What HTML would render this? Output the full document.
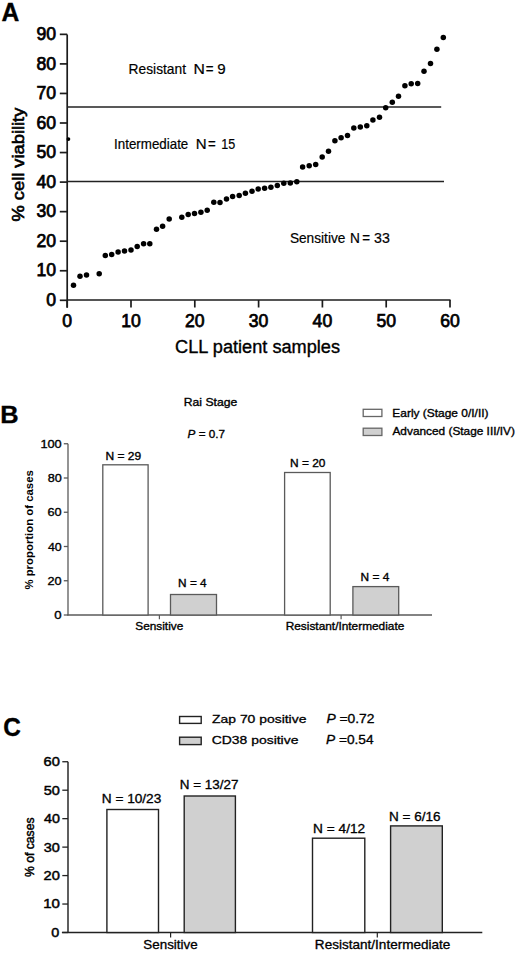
<!DOCTYPE html>
<html><head><meta charset="utf-8"><title>Figure</title>
<style>
html,body{margin:0;padding:0;background:#fff;}
body{width:520px;height:963px;overflow:hidden;}
svg{display:block;font-family:"Liberation Sans", sans-serif;}
</style></head>
<body>
<svg width="520" height="963" viewBox="0 0 520 963">
<rect width="520" height="963" fill="#fff"/>
<text x="1.6" y="20.9" font-size="25" text-anchor="start" font-weight="bold" textLength="17.8" lengthAdjust="spacingAndGlyphs" stroke="#000" stroke-width="0.35">A</text>
<line x1="67.2" y1="34.4" x2="67.2" y2="307.7" stroke="#1c1c1c" stroke-width="1.7"/>
<line x1="59.8" y1="300.3" x2="67.2" y2="300.3" stroke="#1c1c1c" stroke-width="1.7"/>
<text x="56.1" y="306.0" font-size="17.6" text-anchor="end" stroke="#000" stroke-width="0.75">0</text>
<line x1="59.8" y1="270.75" x2="67.2" y2="270.75" stroke="#1c1c1c" stroke-width="1.7"/>
<text x="56.1" y="276.45" font-size="17.6" text-anchor="end" stroke="#000" stroke-width="0.75">10</text>
<line x1="59.8" y1="241.2" x2="67.2" y2="241.2" stroke="#1c1c1c" stroke-width="1.7"/>
<text x="56.1" y="246.9" font-size="17.6" text-anchor="end" stroke="#000" stroke-width="0.75">20</text>
<line x1="59.8" y1="211.65" x2="67.2" y2="211.65" stroke="#1c1c1c" stroke-width="1.7"/>
<text x="56.1" y="217.35" font-size="17.6" text-anchor="end" stroke="#000" stroke-width="0.75">30</text>
<line x1="59.8" y1="182.1" x2="67.2" y2="182.1" stroke="#1c1c1c" stroke-width="1.7"/>
<text x="56.1" y="187.8" font-size="17.6" text-anchor="end" stroke="#000" stroke-width="0.75">40</text>
<line x1="59.8" y1="152.55" x2="67.2" y2="152.55" stroke="#1c1c1c" stroke-width="1.7"/>
<text x="56.1" y="158.25" font-size="17.6" text-anchor="end" stroke="#000" stroke-width="0.75">50</text>
<line x1="59.8" y1="123.0" x2="67.2" y2="123.0" stroke="#1c1c1c" stroke-width="1.7"/>
<text x="56.1" y="128.7" font-size="17.6" text-anchor="end" stroke="#000" stroke-width="0.75">60</text>
<line x1="59.8" y1="93.45" x2="67.2" y2="93.45" stroke="#1c1c1c" stroke-width="1.7"/>
<text x="56.1" y="99.15" font-size="17.6" text-anchor="end" stroke="#000" stroke-width="0.75">70</text>
<line x1="59.8" y1="63.9" x2="67.2" y2="63.9" stroke="#1c1c1c" stroke-width="1.7"/>
<text x="56.1" y="69.6" font-size="17.6" text-anchor="end" stroke="#000" stroke-width="0.75">80</text>
<line x1="59.8" y1="34.35" x2="67.2" y2="34.35" stroke="#1c1c1c" stroke-width="1.7"/>
<text x="56.1" y="40.05" font-size="17.6" text-anchor="end" stroke="#000" stroke-width="0.75">90</text>
<line x1="67.2" y1="300.0" x2="450.5" y2="300.0" stroke="#1c1c1c" stroke-width="1.7"/>
<line x1="67.2" y1="300" x2="67.2" y2="307.5" stroke="#1c1c1c" stroke-width="1.7"/>
<text x="67.2" y="326.5" font-size="17.6" text-anchor="middle" stroke="#000" stroke-width="0.75">0</text>
<line x1="131.0" y1="300" x2="131.0" y2="307.5" stroke="#1c1c1c" stroke-width="1.7"/>
<text x="131.0" y="326.5" font-size="17.6" text-anchor="middle" stroke="#000" stroke-width="0.75">10</text>
<line x1="194.8" y1="300" x2="194.8" y2="307.5" stroke="#1c1c1c" stroke-width="1.7"/>
<text x="194.8" y="326.5" font-size="17.6" text-anchor="middle" stroke="#000" stroke-width="0.75">20</text>
<line x1="258.6" y1="300" x2="258.6" y2="307.5" stroke="#1c1c1c" stroke-width="1.7"/>
<text x="258.6" y="326.5" font-size="17.6" text-anchor="middle" stroke="#000" stroke-width="0.75">30</text>
<line x1="322.4" y1="300" x2="322.4" y2="307.5" stroke="#1c1c1c" stroke-width="1.7"/>
<text x="322.4" y="326.5" font-size="17.6" text-anchor="middle" stroke="#000" stroke-width="0.75">40</text>
<line x1="386.2" y1="300" x2="386.2" y2="307.5" stroke="#1c1c1c" stroke-width="1.7"/>
<text x="386.2" y="326.5" font-size="17.6" text-anchor="middle" stroke="#000" stroke-width="0.75">50</text>
<line x1="450.0" y1="300" x2="450.0" y2="307.5" stroke="#1c1c1c" stroke-width="1.7"/>
<text x="450.0" y="326.5" font-size="17.6" text-anchor="middle" stroke="#000" stroke-width="0.75">60</text>
<text x="175.08" y="353.0" font-size="17.6" text-anchor="start" textLength="164.97" lengthAdjust="spacingAndGlyphs" stroke="#000" stroke-width="0.35">CLL patient samples</text>
<text transform="translate(24.4,164.6) rotate(-90)" font-size="15.8" text-anchor="middle" textLength="113.8" lengthAdjust="spacingAndGlyphs" stroke="#000" stroke-width="0.6">% cell viability</text>
<line x1="67.2" y1="107.0" x2="441.2" y2="107.0" stroke="#222" stroke-width="1.7"/>
<line x1="67.2" y1="181.5" x2="444.0" y2="181.5" stroke="#222" stroke-width="1.7"/>
<text x="128.62" y="73.6" font-size="14.5" text-anchor="start" textLength="57.38" lengthAdjust="spacingAndGlyphs" stroke="#000" stroke-width="0.2">Resistant</text>
<text x="193.51" y="73.6" font-size="14.5" text-anchor="start" textLength="11.38" lengthAdjust="spacingAndGlyphs" stroke="#000" stroke-width="0.2">N</text>
<text x="205.85" y="73.6" font-size="14.5" text-anchor="start" textLength="7.81" lengthAdjust="spacingAndGlyphs" stroke="#000" stroke-width="0.2">=</text>
<text x="217.29" y="73.6" font-size="14.5" text-anchor="start" textLength="8.43" lengthAdjust="spacingAndGlyphs" stroke="#000" stroke-width="0.2">9</text>
<text x="114.07" y="149.4" font-size="14.5" text-anchor="start" textLength="74.23" lengthAdjust="spacingAndGlyphs" stroke="#000" stroke-width="0.2">Intermediate</text>
<text x="195.77" y="149.4" font-size="14.5" text-anchor="start" textLength="10.86" lengthAdjust="spacingAndGlyphs" stroke="#000" stroke-width="0.2">N</text>
<text x="208.1" y="149.4" font-size="14.5" text-anchor="start" textLength="7.75" lengthAdjust="spacingAndGlyphs" stroke="#000" stroke-width="0.2">=</text>
<text x="221.24" y="149.4" font-size="14.5" text-anchor="start" textLength="13.99" lengthAdjust="spacingAndGlyphs" stroke="#000" stroke-width="0.2">15</text>
<text x="289.88" y="242.8" font-size="14.5" text-anchor="start" textLength="55.53" lengthAdjust="spacingAndGlyphs" stroke="#000" stroke-width="0.2">Sensitive</text>
<text x="349.98" y="242.8" font-size="14.5" text-anchor="start" textLength="9.89" lengthAdjust="spacingAndGlyphs" stroke="#000" stroke-width="0.2">N</text>
<text x="362.35" y="242.8" font-size="14.5" text-anchor="start" textLength="7.81" lengthAdjust="spacingAndGlyphs" stroke="#000" stroke-width="0.2">=</text>
<text x="374.06" y="242.8" font-size="14.5" text-anchor="start" textLength="15.76" lengthAdjust="spacingAndGlyphs" stroke="#000" stroke-width="0.2">33</text>
<circle cx="73.5" cy="285.2" r="2.75" fill="#000"/>
<circle cx="80" cy="276.3" r="2.75" fill="#000"/>
<circle cx="86.5" cy="274.9" r="2.75" fill="#000"/>
<circle cx="99.2" cy="273.7" r="2.75" fill="#000"/>
<circle cx="105.3" cy="255.6" r="2.75" fill="#000"/>
<circle cx="111.7" cy="254.6" r="2.75" fill="#000"/>
<circle cx="118.1" cy="252" r="2.75" fill="#000"/>
<circle cx="124.5" cy="251" r="2.75" fill="#000"/>
<circle cx="131" cy="249.9" r="2.75" fill="#000"/>
<circle cx="137.2" cy="246.4" r="2.75" fill="#000"/>
<circle cx="143.6" cy="243.8" r="2.75" fill="#000"/>
<circle cx="149.8" cy="243.8" r="2.75" fill="#000"/>
<circle cx="156.5" cy="229.2" r="2.75" fill="#000"/>
<circle cx="162.6" cy="226.2" r="2.75" fill="#000"/>
<circle cx="169.2" cy="218.9" r="2.75" fill="#000"/>
<circle cx="181.8" cy="217.2" r="2.75" fill="#000"/>
<circle cx="188.2" cy="214.5" r="2.75" fill="#000"/>
<circle cx="194.5" cy="213.4" r="2.75" fill="#000"/>
<circle cx="200.9" cy="212.3" r="2.75" fill="#000"/>
<circle cx="207.2" cy="210.3" r="2.75" fill="#000"/>
<circle cx="213.8" cy="202.3" r="2.75" fill="#000"/>
<circle cx="220" cy="202.6" r="2.75" fill="#000"/>
<circle cx="226.5" cy="199.1" r="2.75" fill="#000"/>
<circle cx="232.6" cy="196.6" r="2.75" fill="#000"/>
<circle cx="239.2" cy="195.4" r="2.75" fill="#000"/>
<circle cx="245.4" cy="193.2" r="2.75" fill="#000"/>
<circle cx="252" cy="191.2" r="2.75" fill="#000"/>
<circle cx="258.2" cy="188.9" r="2.75" fill="#000"/>
<circle cx="264.6" cy="188.3" r="2.75" fill="#000"/>
<circle cx="270.9" cy="187.2" r="2.75" fill="#000"/>
<circle cx="277.3" cy="185.5" r="2.75" fill="#000"/>
<circle cx="283.8" cy="183.2" r="2.75" fill="#000"/>
<circle cx="290.3" cy="182.9" r="2.75" fill="#000"/>
<circle cx="296.8" cy="181.8" r="2.75" fill="#000"/>
<circle cx="302.6" cy="167.1" r="2.75" fill="#000"/>
<circle cx="309.2" cy="165.7" r="2.75" fill="#000"/>
<circle cx="315.7" cy="164.5" r="2.75" fill="#000"/>
<circle cx="322.2" cy="156.9" r="2.75" fill="#000"/>
<circle cx="328.5" cy="151.2" r="2.75" fill="#000"/>
<circle cx="334.9" cy="140.8" r="2.75" fill="#000"/>
<circle cx="341.1" cy="137.8" r="2.75" fill="#000"/>
<circle cx="347.5" cy="135.5" r="2.75" fill="#000"/>
<circle cx="353.8" cy="128" r="2.75" fill="#000"/>
<circle cx="360.3" cy="127.1" r="2.75" fill="#000"/>
<circle cx="366.8" cy="125.8" r="2.75" fill="#000"/>
<circle cx="372.9" cy="120" r="2.75" fill="#000"/>
<circle cx="379.5" cy="117.2" r="2.75" fill="#000"/>
<circle cx="385.7" cy="107.8" r="2.75" fill="#000"/>
<circle cx="392.3" cy="102.2" r="2.75" fill="#000"/>
<circle cx="398.5" cy="96.2" r="2.75" fill="#000"/>
<circle cx="404.9" cy="85.8" r="2.75" fill="#000"/>
<circle cx="411.2" cy="83.7" r="2.75" fill="#000"/>
<circle cx="417.7" cy="83.4" r="2.75" fill="#000"/>
<circle cx="424" cy="71.3" r="2.75" fill="#000"/>
<circle cx="430.5" cy="63.5" r="2.75" fill="#000"/>
<circle cx="436.9" cy="49.2" r="2.75" fill="#000"/>
<circle cx="443.3" cy="37.4" r="2.75" fill="#000"/>
<circle cx="68.4" cy="139.1" r="1.9" fill="#000"/>
<text x="0.3" y="423" font-size="23.5" text-anchor="start" font-weight="bold" textLength="18.35" lengthAdjust="spacingAndGlyphs" stroke="#000" stroke-width="0.35">B</text>
<line x1="68.0" y1="443.75" x2="68.0" y2="615.6" stroke="#5a5a5a" stroke-width="1.3"/>
<line x1="63.8" y1="615.0" x2="68" y2="615.0" stroke="#5a5a5a" stroke-width="1.3"/>
<text x="54.39" y="619.1" font-size="11.6" text-anchor="start" textLength="7.33" lengthAdjust="spacingAndGlyphs" stroke="#000" stroke-width="0.35">0</text>
<line x1="63.8" y1="580.75" x2="68" y2="580.75" stroke="#5a5a5a" stroke-width="1.3"/>
<text x="47.56" y="584.85" font-size="11.6" text-anchor="start" textLength="14.14" lengthAdjust="spacingAndGlyphs" stroke="#000" stroke-width="0.35">20</text>
<line x1="63.8" y1="546.5" x2="68" y2="546.5" stroke="#5a5a5a" stroke-width="1.3"/>
<text x="47.92" y="550.6" font-size="11.6" text-anchor="start" textLength="13.77" lengthAdjust="spacingAndGlyphs" stroke="#000" stroke-width="0.35">40</text>
<line x1="63.8" y1="512.25" x2="68" y2="512.25" stroke="#5a5a5a" stroke-width="1.3"/>
<text x="47.55" y="516.35" font-size="11.6" text-anchor="start" textLength="14.14" lengthAdjust="spacingAndGlyphs" stroke="#000" stroke-width="0.35">60</text>
<line x1="63.8" y1="478.0" x2="68" y2="478.0" stroke="#5a5a5a" stroke-width="1.3"/>
<text x="47.65" y="482.1" font-size="11.6" text-anchor="start" textLength="14.04" lengthAdjust="spacingAndGlyphs" stroke="#000" stroke-width="0.35">80</text>
<line x1="63.8" y1="443.75" x2="68" y2="443.75" stroke="#5a5a5a" stroke-width="1.3"/>
<text x="40.43" y="447.85" font-size="11.6" text-anchor="start" textLength="21.27" lengthAdjust="spacingAndGlyphs" stroke="#000" stroke-width="0.35">100</text>
<line x1="67.4" y1="615" x2="432" y2="615" stroke="#5a5a5a" stroke-width="1.4"/>
<line x1="159.4" y1="615" x2="159.4" y2="619.3" stroke="#5a5a5a" stroke-width="1.2"/>
<line x1="341.1" y1="615" x2="341.1" y2="619.3" stroke="#5a5a5a" stroke-width="1.2"/>
<rect x="102.8" y="464.8" width="45.3" height="150.2" fill="#fff" stroke="#5a5a5a" stroke-width="1.3"/>
<rect x="170.5" y="594.5" width="46.0" height="20.5" fill="#d0d0d0" stroke="#5a5a5a" stroke-width="1.3"/>
<rect x="284.6" y="472.5" width="45.6" height="142.5" fill="#fff" stroke="#5a5a5a" stroke-width="1.3"/>
<rect x="352.9" y="586.6" width="45.8" height="28.4" fill="#d0d0d0" stroke="#5a5a5a" stroke-width="1.3"/>
<text x="105.52" y="459.8" font-size="11.2" text-anchor="start" textLength="35.65" lengthAdjust="spacingAndGlyphs" stroke="#000" stroke-width="0.35">N = 29</text>
<text x="178.13" y="587.0" font-size="11.2" text-anchor="start" textLength="28.51" lengthAdjust="spacingAndGlyphs" stroke="#000" stroke-width="0.35">N = 4</text>
<text x="290.02" y="466.8" font-size="11.2" text-anchor="start" textLength="35.44" lengthAdjust="spacingAndGlyphs" stroke="#000" stroke-width="0.35">N = 20</text>
<text x="360.63" y="581.3" font-size="11.2" text-anchor="start" textLength="28.72" lengthAdjust="spacingAndGlyphs" stroke="#000" stroke-width="0.35">N = 4</text>
<text x="135.26" y="630.1" font-size="11.2" text-anchor="start" textLength="48.06" lengthAdjust="spacingAndGlyphs" stroke="#000" stroke-width="0.35">Sensitive</text>
<text x="285.73" y="630.1" font-size="11.2" text-anchor="start" textLength="118.6" lengthAdjust="spacingAndGlyphs" stroke="#000" stroke-width="0.35">Resistant/Intermediate</text>
<text x="183.8" y="405.9" font-size="11.2" text-anchor="start" textLength="53.44" lengthAdjust="spacingAndGlyphs" stroke="#000" stroke-width="0.35">Rai Stage</text>
<text x="187.6" y="437.6" font-size="11.8" textLength="37.4" lengthAdjust="spacingAndGlyphs" stroke="#000" stroke-width="0.35"><tspan font-style="italic">P</tspan> = 0.7</text>
<rect x="363.2" y="409.3" width="18.7" height="7.2" fill="#fff" stroke="#666" stroke-width="1.3"/>
<rect x="363.2" y="428.2" width="18.7" height="7.3" fill="#d0d0d0" stroke="#666" stroke-width="1.3"/>
<text x="392.32" y="416.5" font-size="11.2" text-anchor="start" textLength="96.22" lengthAdjust="spacingAndGlyphs" stroke="#000" stroke-width="0.35">Early (Stage 0/I/II)</text>
<text x="392.48" y="434.9" font-size="11.2" text-anchor="start" textLength="122.46" lengthAdjust="spacingAndGlyphs" stroke="#000" stroke-width="0.35">Advanced (Stage III/IV)</text>
<text transform="translate(33.2,529.9) rotate(-90)" font-size="11.5" font-weight="bold" text-anchor="middle" textLength="119.4" lengthAdjust="spacingAndGlyphs">% proportion of cases</text>
<text x="3.3" y="736.0" font-size="26" text-anchor="start" font-weight="bold" textLength="17.56" lengthAdjust="spacingAndGlyphs" stroke="#000" stroke-width="0.35">C</text>
<line x1="68.0" y1="761.75" x2="68.0" y2="933" stroke="#222" stroke-width="1.45"/>
<line x1="62.3" y1="932.5" x2="68" y2="932.5" stroke="#222" stroke-width="1.3"/>
<text x="51.34" y="936.9" font-size="12.4" text-anchor="start" textLength="8.03" lengthAdjust="spacingAndGlyphs" stroke="#000" stroke-width="0.45">0</text>
<line x1="62.3" y1="904.04" x2="68" y2="904.04" stroke="#222" stroke-width="1.3"/>
<text x="43.15" y="908.44" font-size="12.4" text-anchor="start" textLength="16.73" lengthAdjust="spacingAndGlyphs" stroke="#000" stroke-width="0.45">10</text>
<line x1="62.3" y1="875.58" x2="68" y2="875.58" stroke="#222" stroke-width="1.3"/>
<text x="43.56" y="879.98" font-size="12.4" text-anchor="start" textLength="16.31" lengthAdjust="spacingAndGlyphs" stroke="#000" stroke-width="0.45">20</text>
<line x1="62.3" y1="847.12" x2="68" y2="847.12" stroke="#222" stroke-width="1.3"/>
<text x="43.75" y="851.52" font-size="12.4" text-anchor="start" textLength="16.12" lengthAdjust="spacingAndGlyphs" stroke="#000" stroke-width="0.45">30</text>
<line x1="62.3" y1="818.66" x2="68" y2="818.66" stroke="#222" stroke-width="1.3"/>
<text x="43.97" y="823.06" font-size="12.4" text-anchor="start" textLength="15.89" lengthAdjust="spacingAndGlyphs" stroke="#000" stroke-width="0.45">40</text>
<line x1="62.3" y1="790.2" x2="68" y2="790.2" stroke="#222" stroke-width="1.3"/>
<text x="43.72" y="794.6" font-size="12.4" text-anchor="start" textLength="16.15" lengthAdjust="spacingAndGlyphs" stroke="#000" stroke-width="0.45">50</text>
<line x1="62.3" y1="761.74" x2="68" y2="761.74" stroke="#222" stroke-width="1.3"/>
<text x="43.56" y="766.14" font-size="12.4" text-anchor="start" textLength="16.32" lengthAdjust="spacingAndGlyphs" stroke="#000" stroke-width="0.45">60</text>
<line x1="61.9" y1="932.5" x2="482.3" y2="932.5" stroke="#222" stroke-width="1.45"/>
<line x1="170.6" y1="932.5" x2="170.6" y2="937.6" stroke="#222" stroke-width="1.2"/>
<line x1="377.3" y1="932.5" x2="377.3" y2="937.6" stroke="#222" stroke-width="1.2"/>
<rect x="106.9" y="809.5" width="51.6" height="123.0" fill="#fff" stroke="#222" stroke-width="1.4"/>
<rect x="184.2" y="796.0" width="51.2" height="136.5" fill="#d0d0d0" stroke="#222" stroke-width="1.4"/>
<rect x="312.5" y="838.2" width="52.3" height="94.3" fill="#fff" stroke="#222" stroke-width="1.4"/>
<rect x="390.6" y="825.9" width="51.7" height="106.6" fill="#d0d0d0" stroke="#222" stroke-width="1.4"/>
<text x="101.78" y="803.2" font-size="12.1" text-anchor="start" textLength="59.52" lengthAdjust="spacingAndGlyphs" stroke="#000" stroke-width="0.3">N = 10/23</text>
<text x="179.8" y="789.1" font-size="12.1" text-anchor="start" textLength="58.68" lengthAdjust="spacingAndGlyphs" stroke="#000" stroke-width="0.3">N = 13/27</text>
<text x="313.08" y="833.2" font-size="12.1" text-anchor="start" textLength="52.11" lengthAdjust="spacingAndGlyphs" stroke="#000" stroke-width="0.3">N = 4/12</text>
<text x="388.99" y="821.4" font-size="12.1" text-anchor="start" textLength="51.5" lengthAdjust="spacingAndGlyphs" stroke="#000" stroke-width="0.3">N = 6/16</text>
<text x="143.39" y="948.6" font-size="12.1" text-anchor="start" textLength="54.3" lengthAdjust="spacingAndGlyphs" stroke="#000" stroke-width="0.3">Sensitive</text>
<text x="314.89" y="948.6" font-size="12.1" text-anchor="start" textLength="135.51" lengthAdjust="spacingAndGlyphs" stroke="#000" stroke-width="0.3">Resistant/Intermediate</text>
<rect x="179.6" y="716.5" width="21.6" height="6.9" fill="#fff" stroke="#222" stroke-width="1.4"/>
<rect x="179.6" y="737.2" width="21.6" height="7.4" fill="#d0d0d0" stroke="#222" stroke-width="1.4"/>
<text x="212.06" y="723.0" font-size="11.6" text-anchor="start" textLength="94.36" lengthAdjust="spacingAndGlyphs" stroke="#000" stroke-width="0.3">Zap 70 positive</text>
<text x="211.79" y="744.0" font-size="11.6" text-anchor="start" textLength="86.62" lengthAdjust="spacingAndGlyphs" stroke="#000" stroke-width="0.3">CD38 positive</text>
<text x="326.4" y="723.0" font-size="12" textLength="48.1" lengthAdjust="spacingAndGlyphs" stroke="#000" stroke-width="0.3"><tspan font-style="italic">P</tspan> =0.72</text>
<text x="326.0" y="744.1" font-size="12" textLength="47.6" lengthAdjust="spacingAndGlyphs" stroke="#000" stroke-width="0.3"><tspan font-style="italic">P</tspan> =0.54</text>
<text transform="translate(33.6,847.25) rotate(-90)" font-size="12" text-anchor="middle" textLength="59.5" lengthAdjust="spacingAndGlyphs" stroke="#000" stroke-width="0.45">% of cases</text>
</svg>
</body></html>
